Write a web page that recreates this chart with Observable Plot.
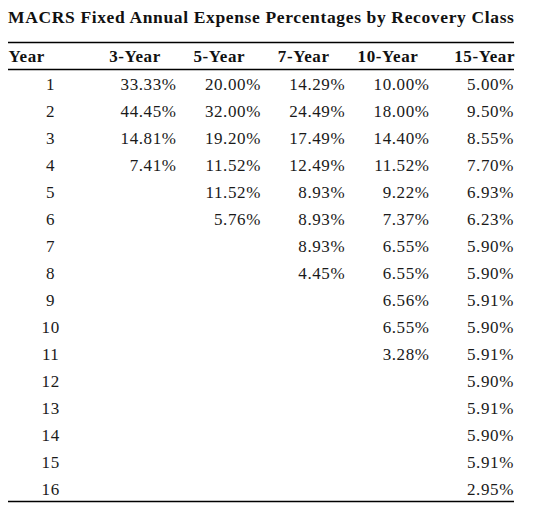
<!DOCTYPE html>
<html>
<head>
<meta charset="utf-8">
<script src="https://cdn.jsdelivr.net/npm/d3@7"></script>
<script src="https://cdn.jsdelivr.net/npm/@observablehq/plot@0.6"></script>
<style>
  body { margin: 0; background: #fff; font-family: "Liberation Serif", "Times New Roman", serif; }
  #title { box-sizing: border-box; height: 32px; padding: 7px 0 0 8px; font-size: 17.5px; font-weight: bold; line-height: 20px; color: #111; white-space: nowrap; letter-spacing: 0.64px; }
  #chart svg text { font-family: "Liberation Serif", "Times New Roman", serif; }
  #chart svg .spaced text { letter-spacing: 0.6px; }
</style>
</head>
<body>
<div id="title">MACRS Fixed Annual Expense Percentages by Recovery Class</div>
<div id="chart"></div>
<script>
const titleText = "MACRS Fixed Annual Expense Percentages by Recovery Class";
const columns = ["Year", "3-Year", "5-Year", "7-Year", "10-Year", "15-Year"];
const years = [1, 2, 3, 4, 5, 6, 7, 8, 9, 10, 11, 12, 13, 14, 15, 16];
const year3 = [33.33, 44.45, 14.81, 7.41];
const year5 = [20.00, 32.00, 19.20, 11.52, 11.52, 5.76];
const year7 = [14.29, 24.49, 17.49, 12.49, 8.93, 8.93, 8.93, 4.45];
const year10 = [10.00, 18.00, 14.40, 11.52, 9.22, 7.37, 6.55, 6.55, 6.56, 6.55, 3.28];
const year15 = [5.00, 9.50, 8.55, 7.70, 6.93, 6.23, 5.90, 5.90, 5.91, 5.90, 5.91, 5.90, 5.91, 5.90, 5.91, 2.95];

const series = [year3, year5, year7, year10, year15];
const nRows = years.length + 1; // header + data rows

const cells = [];
series.forEach((vals, si) => {
  vals.forEach((v, i) => cells.push({col: si + 1, row: i + 1, label: v.toFixed(2) + "%"}));
});
const yearCells = years.map((y, i) => ({col: 0, row: i + 1, label: String(y)}));
const headers = columns.map((c, i) => ({col: i, row: 0, label: c}));

const fontFamily = "Liberation Serif, Times New Roman, serif";
const headStyle = {fontSize: 17, fontWeight: "bold", fill: "#111", fontFamily, dy: 0.8, className: "spaced"};
const bodyStyle = {fontSize: 17, fill: "#1a1a1a", fontFamily, dy: 1.1, className: "spaced"};

const chart = Plot.plot({
  width: 541,
  height: 478,
  marginTop: 10,
  marginBottom: 9,
  marginLeft: 8,
  marginRight: 27,
  style: {fontFamily, background: "#fff"},
  x: {type: "linear", domain: [0, columns.length], axis: null},
  y: {type: "linear", domain: [0, nRows], reverse: true, axis: null},
  marks: [
    Plot.ruleY([0, 1, nRows], {x1: 0, x2: columns.length, stroke: "#000", strokeWidth: 1.6}),
    Plot.text(headers.filter(d => d.col === 0), {x: d => d.col, y: d => d.row + 0.5, text: "label", textAnchor: "start", ...headStyle}),
    Plot.text(headers.filter(d => d.col > 0 && d.col < columns.length - 1), {x: d => d.col + 0.5, y: d => d.row + 0.5, text: "label", textAnchor: "middle", ...headStyle}),
    Plot.text(headers.filter(d => d.col === columns.length - 1), {x: d => d.col + 1, y: d => d.row + 0.5, text: "label", textAnchor: "end", dx: 0.6, ...headStyle}),
    Plot.text(yearCells, {x: d => d.col + 0.5, y: d => d.row + 0.5, text: "label", textAnchor: "middle", ...bodyStyle}),
    Plot.text(cells, {x: d => d.col + 1, y: d => d.row + 0.5, text: "label", textAnchor: "end", dx: -0.6, ...bodyStyle})
  ]
});
document.getElementById("chart").appendChild(chart);
</script>
</body>
</html>
